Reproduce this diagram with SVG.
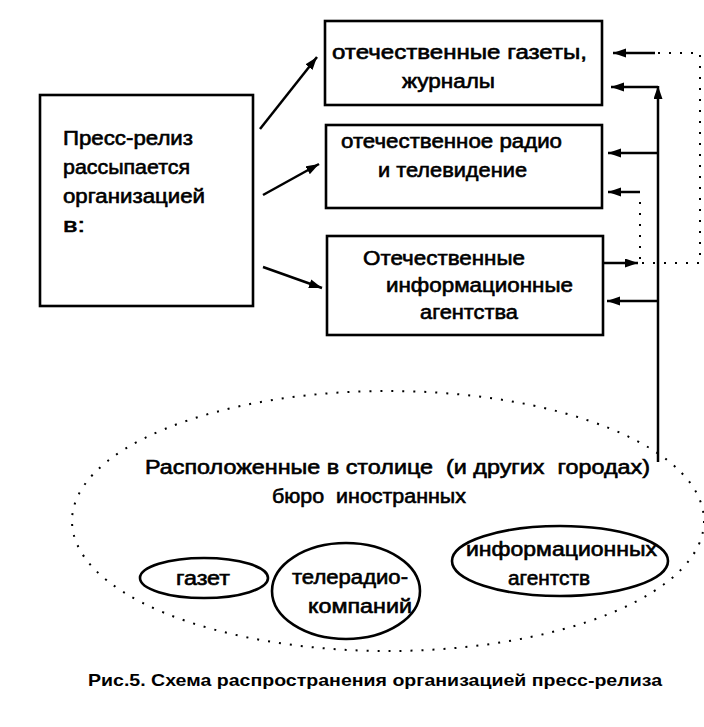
<svg xmlns="http://www.w3.org/2000/svg" width="704" height="727" viewBox="0 0 704 727">
<style>
.box{fill:#fff;stroke:#000;stroke-width:2.6}
.t{font-family:"Liberation Sans","DejaVu Sans",sans-serif;font-size:20px;fill:#000;stroke:#000;stroke-width:0.6}
.cap{font-family:"Liberation Sans","DejaVu Sans",sans-serif;font-size:17px;font-weight:bold;fill:#000}
.ln{fill:none;stroke:#000;stroke-width:2.5}
.dot{fill:none;stroke:#000;stroke-width:2;stroke-dasharray:2 9}
.oval{fill:none;stroke:#000;stroke-width:2.6}
</style>
<defs>
<marker id="ah" markerUnits="userSpaceOnUse" markerWidth="14" markerHeight="10" refX="13" refY="4.5" orient="auto">
<path d="M0,0 L13,4.5 L0,9 z" fill="#000"/>
</marker>
</defs>
<rect width="704" height="727" fill="#fff"/>
<g id="source">
<rect class="box" x="40" y="95" width="213" height="211"/>
<text class="t" x="63" y="145" textLength="130" lengthAdjust="spacingAndGlyphs">Пресс-релиз</text>
<text class="t" x="63" y="174" textLength="127" lengthAdjust="spacingAndGlyphs">рассыпается</text>
<text class="t" x="63" y="203" textLength="142" lengthAdjust="spacingAndGlyphs">организацией</text>
<text class="t" x="63" y="232" textLength="22" lengthAdjust="spacingAndGlyphs">в:</text>
</g>
<g id="newspapers">
<rect class="box" x="325" y="21" width="277" height="84"/>
<text class="t" x="332" y="59" textLength="255" lengthAdjust="spacingAndGlyphs">отечественные газеты,</text>
<text class="t" x="402" y="88" textLength="93" lengthAdjust="spacingAndGlyphs">журналы</text>
</g>
<g id="radio-tv">
<rect class="box" x="326" y="125" width="276" height="83"/>
<text class="t" x="341" y="148" textLength="221" lengthAdjust="spacingAndGlyphs">отечественное радио</text>
<text class="t" x="378" y="177" textLength="149" lengthAdjust="spacingAndGlyphs">и телевидение</text>
</g>
<g id="agencies">
<rect class="box" x="327" y="236" width="276" height="99"/>
<text class="t" x="363" y="265" textLength="162" lengthAdjust="spacingAndGlyphs">Отечественные</text>
<text class="t" x="386" y="292" textLength="187" lengthAdjust="spacingAndGlyphs">информационные</text>
<text class="t" x="420" y="319" textLength="98" lengthAdjust="spacingAndGlyphs">агентства</text>
</g>
<g id="foreign-bureaus">
<ellipse class="dot" cx="388" cy="521" rx="316" ry="130"/>
<text class="t" x="145" y="474" textLength="505" lengthAdjust="spacingAndGlyphs" xml:space="preserve">Расположенные в столице  (и других  городах)</text>
<text class="t" x="272" y="503" textLength="194" lengthAdjust="spacingAndGlyphs" xml:space="preserve">бюро  иностранных</text>
</g>
<g id="foreign-newspapers">
<ellipse class="oval" cx="204" cy="578" rx="64" ry="20"/>
<text class="t" x="176" y="585" textLength="54" lengthAdjust="spacingAndGlyphs">газет</text>
</g>
<g id="foreign-radio-tv">
<ellipse class="oval" cx="346" cy="591" rx="74" ry="48"/>
<text class="t" x="292" y="584" textLength="116" lengthAdjust="spacingAndGlyphs">телерадио-</text>
<text class="t" x="308" y="613" textLength="104" lengthAdjust="spacingAndGlyphs">компаний</text>
</g>
<g id="foreign-agencies">
<ellipse class="oval" cx="560" cy="561" rx="108" ry="35"/>
<text class="t" x="466" y="556" textLength="191" lengthAdjust="spacingAndGlyphs">информационных</text>
<text class="t" x="508" y="585" textLength="82" lengthAdjust="spacingAndGlyphs">агентств</text>
</g>
<g id="connectors">
<line class="ln" x1="260" y1="129" x2="317" y2="57" marker-end="url(#ah)"/>
<line class="ln" x1="263" y1="195" x2="319" y2="164" marker-end="url(#ah)"/>
<line class="ln" x1="263" y1="267" x2="322" y2="288" marker-end="url(#ah)"/>
<line class="ln" x1="658" y1="462" x2="658" y2="86" marker-end="url(#ah)"/>
<line class="ln" x1="658" y1="87" x2="611" y2="87" marker-end="url(#ah)"/>
<line class="ln" x1="658" y1="153" x2="608" y2="153" marker-end="url(#ah)"/>
<line class="ln" x1="658" y1="301" x2="607" y2="301" marker-end="url(#ah)"/>
<line class="ln" x1="603" y1="263" x2="638" y2="263" marker-end="url(#ah)"/>
<polyline class="dot" points="642,263 700,263 700,53 656,53"/>
<line class="ln" x1="655" y1="53" x2="613" y2="53" marker-end="url(#ah)"/>
<polyline class="dot" points="640,259 640,194"/>
<line class="ln" x1="640" y1="192" x2="608" y2="192" marker-end="url(#ah)"/>
</g>
<text class="cap" x="88" y="686" textLength="574" lengthAdjust="spacingAndGlyphs">Рис.5. Схема распространения организацией пресс-релиза</text>
</svg>
